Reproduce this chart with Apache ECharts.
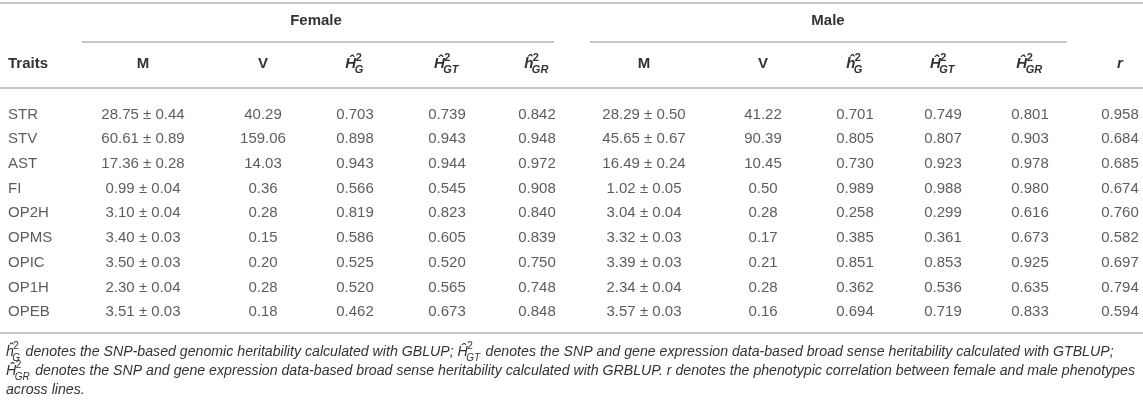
<!DOCTYPE html>
<html>
<head>
<meta charset="utf-8">
<script src="https://cdn.jsdelivr.net/npm/echarts@6/dist/echarts.min.js"></script>
<style>
html, body { margin: 0; padding: 0; background: #fff; }
#table { width: 1143px; height: 404px; }
</style>
</head>
<body>
<div id="table"></div>
<script>
/** Traits table: female / male estimates */
var traits = ['STR', 'STV', 'AST', 'FI', 'OP2H', 'OPMS', 'OPIC', 'OP1H', 'OPEB'];

var femaleMean = [28.75, 60.61, 17.36, 0.99, 3.10, 3.40, 3.50, 2.30, 3.51];
var femaleSE = [0.44, 0.89, 0.28, 0.04, 0.04, 0.03, 0.03, 0.04, 0.03];
var femaleVar = [40.29, 159.06, 14.03, 0.36, 0.28, 0.15, 0.20, 0.28, 0.18];
var femaleHG = [0.703, 0.898, 0.943, 0.566, 0.819, 0.586, 0.525, 0.520, 0.462];
var femaleHGT = [0.739, 0.943, 0.944, 0.545, 0.823, 0.605, 0.520, 0.565, 0.673];
var femaleHGR = [0.842, 0.948, 0.972, 0.908, 0.840, 0.839, 0.750, 0.748, 0.848];

var maleMean = [28.29, 45.65, 16.49, 1.02, 3.04, 3.32, 3.39, 2.34, 3.57];
var maleSE = [0.50, 0.67, 0.24, 0.05, 0.04, 0.03, 0.03, 0.04, 0.03];
var maleVar = [41.22, 90.39, 10.45, 0.50, 0.28, 0.17, 0.21, 0.28, 0.16];
var maleHG = [0.701, 0.805, 0.730, 0.989, 0.258, 0.385, 0.851, 0.362, 0.694];
var maleHGT = [0.749, 0.807, 0.923, 0.988, 0.299, 0.361, 0.853, 0.536, 0.719];
var maleHGR = [0.801, 0.903, 0.978, 0.980, 0.616, 0.673, 0.925, 0.635, 0.833];

var corrR = [0.958, 0.684, 0.685, 0.674, 0.760, 0.582, 0.697, 0.794, 0.594];

// header cells: plain text or estimate symbol (base letter + ^2 + subscript)
var headers = [
  { text: 'Traits' },
  { text: 'M' }, { text: 'V' },
  { base: '\u0124', sub: 'G' }, { base: '\u0124', sub: 'GT' }, { base: '\u0125', sub: 'GR' },
  { text: 'M' }, { text: 'V' },
  { base: '\u0125', sub: 'G' }, { base: '\u0124', sub: 'GT' }, { base: '\u0124', sub: 'GR' },
  { text: 'r', italic: true }
];

// layout (pixels)
var colX = [8, 143, 263, 355, 447, 537, 644, 763, 855, 943, 1030, 1120];
var FONT = "'Liberation Sans', Arial, sans-serif";
var TXT = '#333';
var RULE = '#b4b4b4';

var ctx = document.createElement('canvas').getContext('2d');
function measure(t, font) {
  ctx.font = font;
  return ctx.measureText(t).width;
}

function pm(m, s) { return m.toFixed(2) + ' \u00b1 ' + s.toFixed(2); }

var columns = [
  function (i) { return traits[i]; },
  function (i) { return pm(femaleMean[i], femaleSE[i]); },
  function (i) { return femaleVar[i].toFixed(2); },
  function (i) { return femaleHG[i].toFixed(3); },
  function (i) { return femaleHGT[i].toFixed(3); },
  function (i) { return femaleHGR[i].toFixed(3); },
  function (i) { return pm(maleMean[i], maleSE[i]); },
  function (i) { return maleVar[i].toFixed(2); },
  function (i) { return maleHG[i].toFixed(3); },
  function (i) { return maleHGT[i].toFixed(3); },
  function (i) { return maleHGR[i].toFixed(3); },
  function (i) { return corrR[i].toFixed(3); }
];

var cells = [];
columns.forEach(function (fn, c) {
  traits.forEach(function (t, r) {
    cells.push({
      value: [colX[c], r],
      label: { formatter: fn(r), align: c === 0 ? 'left' : 'center' }
    });
  });
});

// estimate symbol: hat letter with stacked ² and subscript
function estSymbol(x0, cy, base, sub, bold, size, anchor) {
  var w = bold ? 'bold ' : '';
  var small = Math.round(size * 0.74);
  var fBase = 'italic ' + w + size + 'px ' + FONT;
  var fSmall = 'italic ' + w + small + 'px ' + FONT;
  var fSup = w + small + 'px ' + FONT;
  var wb = measure(base, fBase);
  var ws = Math.max(measure('2', fSup), measure(sub, fSmall));
  var total = wb + ws;
  if (anchor === 'center') x0 = x0 - total / 2;
  var els = [
    plainText(base, x0, cy, fBase, 'left'),
    plainText('2', x0 + wb - 0.5, cy - size * 0.4, fSup, 'left'),
    plainText(sub, x0 + wb - 1.5, cy + size * 0.42, fSmall, 'left')
  ];
  return { els: els, width: total };
}

function plainText(t, x, y, font, align) {
  return { type: 'text', silent: true, style: { text: t, x: x, y: y, font: font, fill: TXT, textAlign: align, textVerticalAlign: 'middle', align: align, verticalAlign: 'middle' } };
}

function rule(x1, x2, y) {
  return { type: 'line', silent: true, shape: { x1: x1, y1: y, x2: x2, y2: y }, style: { stroke: RULE, lineWidth: 1.6 } };
}

var graphics = [
  rule(0, 1143, 3),
  rule(82, 554, 42), rule(590, 1067, 42),
  rule(0, 1143, 88),
  rule(0, 1143, 333),
  plainText('Female', 316, 21, 'bold 15px ' + FONT, 'center'),
  plainText('Male', 828, 21, 'bold 15px ' + FONT, 'center')
];

headers.forEach(function (h, c) {
  if (h.base) {
    graphics = graphics.concat(estSymbol(colX[c], 64, h.base, h.sub, true, 15, 'center').els);
  } else {
    var f = (h.italic ? 'italic ' : '') + 'bold 15px ' + FONT;
    graphics.push(plainText(h.text, colX[c], 64, f, c === 0 ? 'left' : 'center'));
  }
});

// footnote
var noteLines = [
  [{ base: '\u0125', sub: 'G' }, ' denotes the SNP-based genomic heritability calculated with GBLUP; ',
   { base: '\u0124', sub: 'GT' }, ' denotes the SNP and gene expression data-based broad sense heritability calculated with GTBLUP;'],
  [{ base: '\u0124', sub: 'GR' }, ' denotes the SNP and gene expression data-based broad sense heritability calculated with GRBLUP. r denotes the phenotypic correlation between female and male phenotypes'],
  ['across lines.']
];
var noteY = [352, 371, 390];

function lineWidth(items, size) {
  var f = 'italic ' + size + 'px ' + FONT;
  var w = 0;
  items.forEach(function (it) {
    if (typeof it === 'string') w += measure(it, f);
    else w += estSymbol(0, 0, it.base, it.sub, false, size, 'left').width;
  });
  return w;
}
var noteSize = Math.min(13 * 1128 / lineWidth(noteLines[0], 13), 13 * 1131 / lineWidth(noteLines[1], 13));

noteLines.forEach(function (items, k) {
  var x = 6;
  var f = 'italic ' + noteSize.toFixed(2) + 'px ' + FONT;
  items.forEach(function (it) {
    if (typeof it === 'string') {
      graphics.push(plainText(it, x, noteY[k], f, 'left'));
      x += measure(it, f);
    } else {
      var s = estSymbol(x, noteY[k], it.base, it.sub, false, noteSize, 'left');
      graphics = graphics.concat(s.els);
      x += s.width;
    }
  });
});

var table = echarts.init(document.getElementById('table'));
var option = {
  animation: false,
  grid: { left: 0, right: 0, top: 102.15, height: 222.3 },
  xAxis: { type: 'value', min: 0, max: 1143, show: false },
  yAxis: { type: 'category', data: traits, inverse: true, show: false },
  graphic: graphics,
  series: [{
    type: 'scatter',
    symbolSize: 0,
    silent: true,
    data: cells,
    label: {
      show: true,
      position: 'inside',
      color: TXT,
      fontSize: 15,
      fontFamily: FONT,
      verticalAlign: 'middle'
    }
  }]
};
table.setOption(option);
</script>
</body>
</html>
